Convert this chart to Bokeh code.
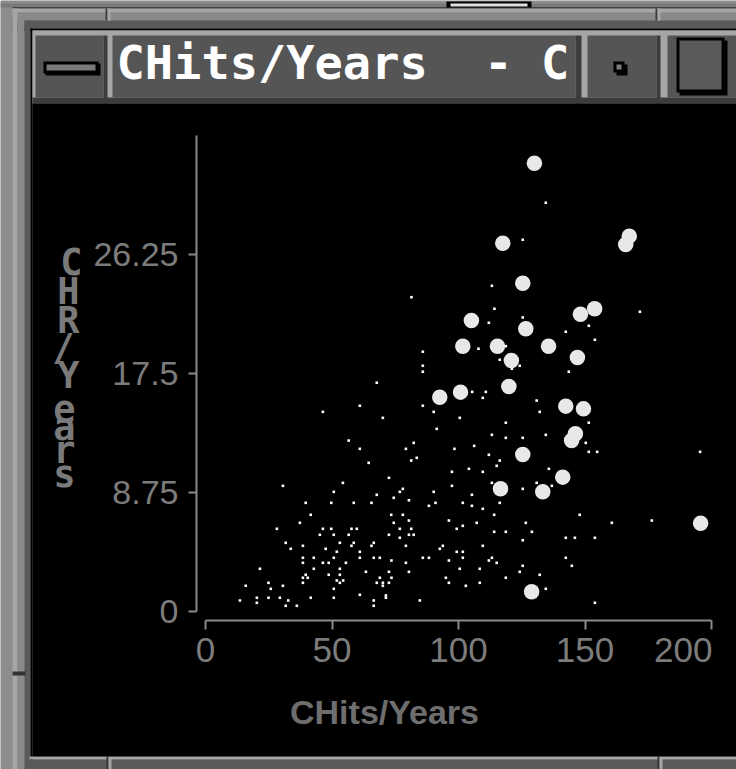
from bokeh.plotting import figure
from bokeh.models import (Range1d, LinearAxis, FixedTicker, BoxAnnotation, Label,
                          PrintfTickFormatter)
from bokeh.embed import file_html
from bokeh.resources import INLINE

# ---------------- data ----------------
window_title = "CHits/Years\u00a0\u00a0- C"
x_title = "CHits/Years"
y_title = "CHR/Years"
x_ticks = [0, 50, 100, 150, 200]
y_ticks = [0, 8.75, 17.5, 26.25]

# highlighted (large) points
big_x = [130.0, 117.5, 167.5, 166.1, 125.4, 105.1, 148.2, 153.8, 126.6, 101.7,
         115.4, 135.6, 120.9, 147.0, 119.9, 100.8, 92.6, 142.4, 149.4, 146.2,
         144.7, 125.4, 141.2, 116.6, 133.3, 195.7, 128.9]
big_y = [32.96, 27.08, 27.60, 26.99, 24.14, 21.40, 21.86, 22.26, 20.79, 19.51,
         19.51, 19.51, 18.46, 18.68, 16.54, 16.13, 15.76, 15.10, 14.90, 13.07,
         12.57, 11.54, 9.88, 9.02, 8.80, 6.49, 1.45]

# remaining (small) points, right part
small_x_a = [134.5, 125.4, 113.2, 81.4, 171.7, 114.2, 125.4, 112.0, 151.5, 107.9,
             118.7, 142.4, 153.9, 116.3, 124.2, 121.1, 143.6, 85.9, 85.9, 85.9,
             67.7, 105.4, 110.8, 109.6, 130.9, 132.1, 100.5, 118.7, 151.5, 113.2,
             118.7, 125.4, 134.5, 150.3, 98.4, 106.2, 151.5, 154.8, 195.5, 112.0,
             116.3, 115.1, 104.1, 109.6, 135.7, 97.4, 97.4, 113.2, 125.4, 130.9,
             136.9, 105.3, 101.7, 105.3, 109.6, 116.3, 114.1, 147.9, 160.6, 176.4,
             96.2, 101.7, 99.3, 107.2, 114.1, 118.7, 126.6, 129.0, 125.4, 142.4,
             146.0, 153.9, 93.8, 109.6, 99.3, 101.7, 101.7, 96.2, 113.2, 112.0,
             115.1, 142.4, 144.8, 125.4, 100.5, 108.4, 124.2, 132.1, 95.0, 118.7,
             96.2, 102.9, 108.4, 134.5, 153.9]
small_y_a = [30.05, 27.33, 23.95, 23.11, 22.04, 22.26, 21.62, 21.23, 21.01, 19.32,
             19.51, 20.57, 19.98, 18.51, 18.07, 17.85, 17.63, 19.10, 18.07, 17.63,
             16.82, 16.15, 16.15, 15.71, 15.51, 14.68, 14.24, 13.88, 13.88, 12.99,
             12.77, 12.77, 12.99, 12.40, 11.96, 12.18, 11.74, 11.74, 11.74, 11.52,
             11.10, 10.71, 10.49, 10.27, 10.49, 10.27, 9.24, 9.46, 9.02, 9.46,
             9.24, 8.58, 7.99, 7.77, 7.55, 7.99, 7.11, 7.11, 6.52, 6.69,
             6.69, 6.30, 6.08, 6.52, 5.86, 5.86, 6.52, 5.86, 5.24, 5.42,
             5.42, 5.42, 4.83, 4.83, 4.39, 4.39, 3.95, 3.75, 3.95, 3.75,
             3.58, 3.95, 3.36, 3.36, 3.14, 3.14, 2.92, 2.70, 2.48, 2.48,
             2.11, 1.89, 2.11, 1.67, 0.64]

# remaining (small) points, left part
small_x_b = [61.0, 85.9, 90.2, 46.4, 70.1, 91.4, 56.6, 82.3, 61.0, 79.2,
             83.5, 81.3, 64.5, 72.5, 30.6, 54.3, 50.7, 78.0, 76.8, 67.7,
             90.2, 74.4, 80.4, 90.9, 88.3, 39.6, 49.7, 58.6, 65.6, 41.6,
             37.3, 73.4, 78.0, 74.4, 80.4, 28.2, 46.4, 49.7, 57.7, 59.8,
             76.8, 81.3, 45.2, 50.7, 56.6, 72.5, 80.4, 82.3, 76.8, 31.7,
             38.5, 53.1, 58.6, 57.7, 66.5, 65.6, 79.2, 33.7, 47.5, 92.6,
             51.9, 61.0, 38.5, 42.8, 50.7, 61.0, 66.5, 68.9, 85.9, 88.3,
             38.5, 46.4, 48.7, 55.5, 73.5, 79.2, 21.5, 42.8, 53.1, 63.4,
             72.5, 80.4, 39.6, 40.4, 38.5, 48.7, 53.1, 68.9, 73.5, 15.9,
             24.9, 30.6, 38.5, 51.9, 53.1, 54.4, 67.7, 70.1, 70.1, 72.5,
             25.8, 50.7, 61.0, 71.3, 71.3, 13.6, 20.3, 20.3, 24.9, 29.4,
             32.7, 41.6, 50.7, 66.5, 84.7, 31.7, 36.1, 66.5]
small_y_b = [15.13, 15.13, 14.68, 14.68, 14.24, 13.43, 12.57, 12.40, 11.96, 11.96,
             11.30, 11.10, 10.93, 9.83, 9.24, 9.46, 8.80, 9.02, 8.80, 8.58,
             8.80, 8.36, 8.18, 7.99, 7.77, 7.99, 7.99, 7.99, 7.99, 7.11,
             6.52, 7.11, 7.11, 6.52, 6.69, 6.08, 6.08, 6.08, 6.08, 6.08,
             6.08, 6.08, 5.64, 5.64, 5.64, 5.64, 5.64, 5.64, 5.42, 5.05,
             4.83, 5.05, 5.05, 4.83, 5.05, 4.83, 4.83, 4.61, 4.61, 4.61,
             4.39, 4.39, 3.95, 3.95, 3.95, 3.95, 3.95, 3.95, 3.95, 3.95,
             3.58, 3.58, 3.58, 3.58, 3.75, 3.58, 3.14, 3.14, 3.14, 2.92,
             2.92, 2.92, 2.70, 2.48, 2.48, 2.70, 2.70, 2.48, 2.48, 1.89,
             2.11, 1.89, 2.11, 2.28, 2.11, 2.28, 2.11, 2.11, 1.89, 2.11,
             1.67, 1.67, 1.23, 1.18, 1.01, 0.81, 1.01, 0.64, 1.01, 1.01,
             0.81, 1.01, 1.01, 0.81, 0.81, 0.42, 0.42, 0.42]

small_x = small_x_a + small_x_b
small_y = small_y_a + small_y_b

# ---------------- geometry ----------------
W, H = 736, 769
OFF = 0
PX0, PXU = 205.0, 2.53       # window pixel of x=0, pixels per x unit
PY0, PYU = 611.0, 13.6       # window pixel of y=0, pixels per y unit


def dx(X):
    return (X - PX0) / PXU


def dy(Y):
    return (PY0 - Y) / PYU


p = figure(width=W, height=H, output_backend="svg", toolbar_location=None,
           title=None,
           x_range=Range1d(dx(OFF), dx(OFF + W)),
           y_range=Range1d(dy(OFF + H), dy(OFF)),
           x_axis_type=None, y_axis_type=None, min_border=0,
           background_fill_color="#8c8c8c", border_fill_color="#8c8c8c",
           outline_line_color=None)


def box(x1, y1, x2, y2, color, level="underlay"):
    p.add_layout(BoxAnnotation(left=dx(x1), right=dx(x2), top=dy(y1), bottom=dy(y2),
                               fill_color=color, fill_alpha=1.0, line_color=None,
                               line_alpha=0, level=level))


LIGHT = "#a6a6a6"
MID = "#8a8a8a"
DARK = "#5a5a5a"
CELL = "#555555"
CELLDARK = "#3c3c3c"

# very top: edge of another window
box(0, 3, 740, 7, "#7a7a7a")
box(446, 1, 531, 7, "#000000")
box(450, 3, 527, 6, "#e0e0e0")
box(12, 7, 740, 8, "#000000")

# window frame (top)
box(12, 8, 740, 12, LIGHT)
box(12, 12, 740, 20, MID)
box(12, 20, 740, 28, DARK)
box(105, 8, 107, 20, "#3a3a3a")
box(107, 8, 110, 20, LIGHT)
box(655, 8, 657, 20, "#3a3a3a")
box(657, 8, 660, 20, LIGHT)
box(12, 28, 740, 30, "#000000")
# window frame (left)
box(12, 8, 17, 770, LIGHT)
box(17, 12, 24, 770, MID)
box(24, 20, 30, 770, DARK)
box(30, 28, 32, 770, "#000000")
box(12, 671, 25, 675, "#333333")
# window frame (bottom)
box(29, 756, 740, 759, LIGHT)
box(29, 759, 740, 770, DARK)
box(106, 756, 108, 770, "#333333")
box(108, 756, 111, 770, LIGHT)
box(657, 756, 659, 770, "#333333")
box(659, 756, 662, 770, LIGHT)

# title bar
box(32, 30, 740, 103, LIGHT)
box(32, 97, 740, 103, CELLDARK)
for (a, b, c) in [(35, 103, 107), (112, 575, 581), (587, 656, 660), (667, 740, 740)]:
    box(a, 35, b, 97, CELL)
    box(b, 35, c, 103, CELLDARK)
# minimize icon
box(45, 63, 100, 75, "#000000")
box(43, 61, 98, 73, "#000000")
box(46, 64, 95, 70, "#7a7a7a")
# menu dot icon
box(616, 64, 627, 75, "#000000")
box(613, 61, 624, 72, "#000000")
box(616, 64, 621, 69, "#7a7a7a")
# maximize icon
box(679, 40, 727, 95, "#000000")
box(676, 37, 724, 92, "#000000")
box(679, 40, 721, 89, "#5a5a5a")

# black content area
box(32, 103, 740, 756, "#000000")

# ---------------- marks ----------------
p.scatter(small_x, small_y, marker="square", size=2.6, fill_color="#ffffff",
          line_color=None)
p.scatter(big_x, big_y, marker="circle", size=15.5, fill_color="#e8e8e8",
          line_color=None)

# ---------------- axes ----------------
AX = "#8a8a8a"
TXT = "#7c7c7c"

xaxis = LinearAxis(fixed_location=dy(620), bounds=(0, 200),
                   ticker=FixedTicker(ticks=x_ticks),
                   axis_line_color=AX, axis_line_width=2,
                   major_tick_line_color=AX, major_tick_line_width=2,
                   major_tick_in=0, major_tick_out=9,
                   minor_tick_line_color=None,
                   major_label_text_font="Liberation Sans",
                   major_label_text_font_size="35px",
                   major_label_text_color=TXT,
                   major_label_standoff=8,
                   major_label_overrides={200: ""})
p.add_layout(xaxis, "below")

yaxis = LinearAxis(fixed_location=dx(196), bounds=(0, 35),
                   ticker=FixedTicker(ticks=y_ticks),
                   formatter=PrintfTickFormatter(format="%g"),
                   axis_line_color=AX, axis_line_width=2,
                   major_tick_line_color=AX, major_tick_line_width=2,
                   major_tick_in=0, major_tick_out=8,
                   minor_tick_line_color=None,
                   major_label_text_font="Liberation Sans",
                   major_label_text_font_size="34px",
                   major_label_text_color=TXT,
                   major_label_standoff=10)
p.add_layout(yaxis, "left")


def lab(text, X, Y, size, color, font, align="left", style="normal"):
    # Y is the vertical middle of the text
    p.add_layout(Label(x=dx(X), y=dy(Y), text=text, text_font=font,
                       text_font_size=f"{size}px", text_color=color,
                       text_align=align, text_baseline="middle",
                       text_font_style=style))


# last x tick label, kept inside the window
lab(str(x_ticks[-1]), 712, 649, 35, TXT, "Liberation Sans", align="right")

# window title
lab(window_title, 116, 61.5, 47, "#ffffff", "DejaVu Sans Mono", style="bold")

# x axis title (centred in the window)
lab(x_title, 384, 711.5, 34, "#6e6e6e", "Liberation Sans", align="center", style="bold")

# y axis title, one letter above the next (baseline positions)
SZ = 37
letter_base = [(71, 275), (68, 304), (68, 333), (63, 360), (68, 388),
               (64, 421), (64, 440), (64, 463), (64, 487)]
for ch, (X, Yb) in zip(y_title, letter_base):
    lab(ch, X, Yb - 0.35 * SZ, SZ, "#7a7a7a", "DejaVu Sans Mono", align="center",
        style="bold")

open("out.html", "w").write(file_html(p, INLINE))
